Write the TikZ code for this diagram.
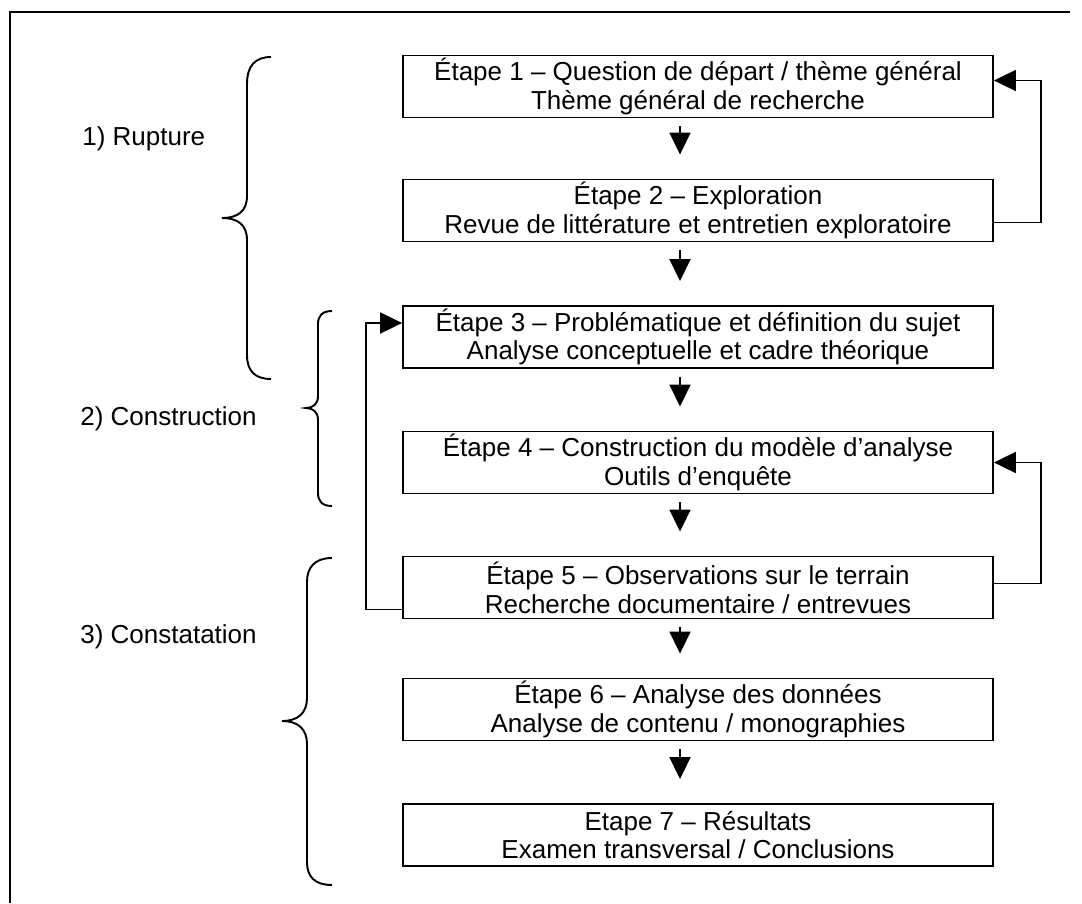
\documentclass[tikz,border=0pt]{standalone}
\usepackage{fontspec}
\setmainfont{Liberation Sans}
\usetikzlibrary{arrows.meta, calc}
\tikzset{
    etape/.style={draw, line width=1.1pt, minimum width=11.8cm, minimum height=1.24cm, inner sep=0pt, align=center, font=\fontsize{14.8}{16.4}\selectfont},
    phase/.style={anchor=west, inner sep=0pt, font=\fontsize{14.8}{16.4}\selectfont},
    fleche/.style={line width=1.1pt, -{Triangle[width=0.42cm,length=0.44cm]}},
    suite/.style={fleche, shorten <=0.16cm, shorten >=0.48cm},
    accolade/.style={line width=1.1pt}
}
\begin{document}
\begin{tikzpicture}[x=0.02cm, y=-0.02cm]
    \useasboundingbox (0,0) rectangle (1082,903);
    % cadre
    \draw[line width=1.1pt] (10,903) -- (10,12) -- (1070,12);
    % etapes
    \node[etape] (e1) at (698,86.5) {Étape 1 – Question de départ / thème général\\Thème général de recherche};
    \node[etape] (e2) at (698,210.5) {Étape 2 – Exploration\\Revue de littérature et entretien exploratoire};
    \node[etape] (e3) at (698,337) {Étape 3 – Problématique et définition du sujet\\Analyse conceptuelle et cadre théorique};
    \node[etape] (e4) at (698,462.5) {Étape 4 – Construction du modèle d’analyse\\Outils d’enquête};
    \node[etape] (e5) at (698,587.5) {Étape 5 – Observations sur le terrain\\Recherche documentaire / entrevues};
    \node[etape] (e6) at (698,709.5) {Étape 6 – Analyse des données\\Analyse de contenu / monographies};
    \node[etape] (e7) at (698,835) {Etape 7 – Résultats\\Examen transversal / Conclusions};
    % phases
    \node[phase] (rupture) at (82,139) {1) Rupture};
    \node[phase] (construction) at (80,419) {2) Construction};
    \node[phase] (constatation) at (80,637) {3) Constatation};
    % fleches
    \coordinate (ax) at (680,0);
    \draw[suite] (e1.south -| ax) -- (e2.north -| ax);
    \draw[suite] (e2.south -| ax) -- (e3.north -| ax);
    \draw[suite] (e3.south -| ax) -- (e4.north -| ax);
    \draw[suite] (e4.south -| ax) -- (e5.north -| ax);
    \draw[suite] (e5.south -| ax) -- (e6.north -| ax);
    \draw[suite] (e6.south -| ax) -- (e7.north -| ax);
    % retours
    \draw[fleche] ($(e2.east)+(0,12)$) -- ++(47,0) |- ($(e1.east)+(0,-6)$);
    \draw[fleche] ($(e5.east)+(0,-4)$) -- ++(47,0) |- (e4.east);
    \draw[fleche] ($(e5.west)+(0,22)$) -- ++(-36,0) |- ($(e3.west)+(0,-14)$);
    % accolades
    \draw[accolade] (271,57) .. controls (255,57) and (247,66) .. (247,84) -- (247,196) .. controls (247,211) and (238,218) .. (222,218) .. controls (238,218) and (247,225) .. (247,240) -- (247,355) .. controls (247,371) and (255,379) .. (271,379);
    \draw[accolade] (332,311) .. controls (322,311) and (318,316) .. (318,324) -- (318,396) .. controls (318,404) and (313,408) .. (306,408) .. controls (313,408) and (318,412) .. (318,420) -- (318,493) .. controls (318,501) and (322,506) .. (332,506);
    \draw[accolade] (332,558) .. controls (315,558) and (307,567) .. (307,582) -- (307,698) .. controls (307,713) and (298,721) .. (282,721) .. controls (298,721) and (307,729) .. (307,744) -- (307,862) .. controls (307,877) and (315,885) .. (332,885);
\end{tikzpicture}
\end{document}
